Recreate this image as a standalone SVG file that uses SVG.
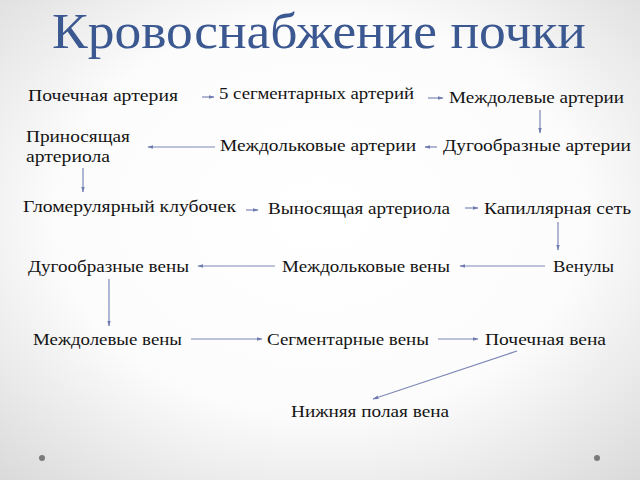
<svg xmlns="http://www.w3.org/2000/svg" width="640" height="480" viewBox="0 0 640 480">
<defs>
<radialGradient id="bg" cx="50%" cy="45%" r="75%">
<stop offset="0" stop-color="#ffffff"/>
<stop offset="0.55" stop-color="#fcfcfc"/>
<stop offset="1" stop-color="#d9d9d9"/>
</radialGradient>
<marker id="ah" viewBox="0 0 10 10" refX="9" refY="5" markerWidth="6" markerHeight="6" orient="auto" markerUnits="userSpaceOnUse">
<path d="M0,2 L10,5 L0,8 z" fill="#6e7bb0"/>
</marker>
<style>
.t{font-family:"Liberation Serif","DejaVu Serif",serif;font-size:16px;fill:#141414;}
.title{font-family:"Liberation Serif","DejaVu Serif",serif;font-size:50px;fill:#3b5891;}
.c line{stroke:#7d88b8;stroke-width:1.2;marker-end:url(#ah);}
</style>
</defs>
<rect width="640" height="480" fill="url(#bg)"/>
<text class="title" x="52" y="48" textLength="534" lengthAdjust="spacingAndGlyphs">Кровоснабжение почки</text>

<g id="n1"><text class="t" x="28" y="101" textLength="150" lengthAdjust="spacingAndGlyphs">Почечная артерия</text></g>
<g id="n2"><text class="t" x="219" y="99" textLength="195" lengthAdjust="spacingAndGlyphs">5 сегментарных артерий</text></g>
<g id="n3"><text class="t" x="449" y="103" textLength="175" lengthAdjust="spacingAndGlyphs">Междолевые артерии</text></g>
<g id="n4"><text class="t" x="26" y="142" textLength="104" lengthAdjust="spacingAndGlyphs">Приносящая</text><text class="t" x="26" y="162" textLength="84" lengthAdjust="spacingAndGlyphs">артериола</text></g>
<g id="n5"><text class="t" x="220" y="151" textLength="196" lengthAdjust="spacingAndGlyphs">Междольковые артерии</text></g>
<g id="n6"><text class="t" x="443" y="151" textLength="188" lengthAdjust="spacingAndGlyphs">Дугообразные артерии</text></g>
<g id="n7"><text class="t" x="23" y="212" textLength="213" lengthAdjust="spacingAndGlyphs">Гломерулярный клубочек</text></g>
<g id="n8"><text class="t" x="268" y="214" textLength="182" lengthAdjust="spacingAndGlyphs">Выносящая артериола</text></g>
<g id="n9"><text class="t" x="484" y="214" textLength="147" lengthAdjust="spacingAndGlyphs">Капиллярная сеть</text></g>
<g id="n10"><text class="t" x="28" y="272" textLength="161" lengthAdjust="spacingAndGlyphs">Дугообразные вены</text></g>
<g id="n11"><text class="t" x="282" y="272" textLength="168" lengthAdjust="spacingAndGlyphs">Междольковые вены</text></g>
<g id="n12"><text class="t" x="553" y="272" textLength="61" lengthAdjust="spacingAndGlyphs">Венулы</text></g>
<g id="n13"><text class="t" x="33" y="345" textLength="149" lengthAdjust="spacingAndGlyphs">Междолевые вены</text></g>
<g id="n14"><text class="t" x="267" y="345" textLength="162" lengthAdjust="spacingAndGlyphs">Сегментарные вены</text></g>
<g id="n15"><text class="t" x="485" y="345" textLength="121" lengthAdjust="spacingAndGlyphs">Почечная вена</text></g>
<g id="n16"><text class="t" x="291" y="417" textLength="158" lengthAdjust="spacingAndGlyphs">Нижняя полая вена</text></g>

<g id="connectors" class="c">
<line x1="202" y1="97" x2="214" y2="97"/>
<line x1="428" y1="98" x2="443" y2="98"/>
<line x1="540" y1="110" x2="540" y2="133"/>
<line x1="437" y1="147" x2="425" y2="147"/>
<line x1="215" y1="147" x2="148" y2="147"/>
<line x1="83" y1="168" x2="83" y2="192"/>
<line x1="246" y1="210" x2="258" y2="210"/>
<line x1="465" y1="208" x2="478" y2="208"/>
<line x1="558" y1="222" x2="558" y2="250"/>
<line x1="545" y1="266" x2="460" y2="266"/>
<line x1="275" y1="266" x2="198" y2="266"/>
<line x1="109" y1="279" x2="109" y2="326"/>
<line x1="191" y1="339" x2="262" y2="339"/>
<line x1="438" y1="339" x2="478" y2="339"/>
<line x1="517" y1="351" x2="373" y2="399"/>
</g>
<circle cx="42" cy="458" r="3" fill="#7a7a7a"/>
<circle cx="597" cy="458" r="3" fill="#7a7a7a"/>
</svg>
